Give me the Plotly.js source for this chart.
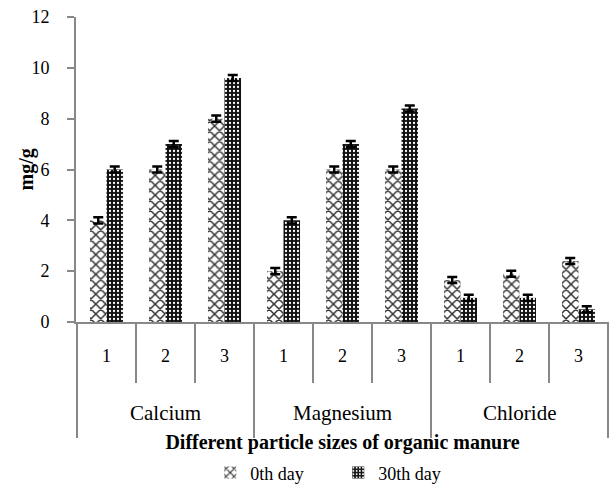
<!DOCTYPE html>
<html>
<head>
<meta charset="utf-8">
<script src="https://cdn.plot.ly/plotly-3.0.1.min.js"></script>
<style>html,body{margin:0;padding:0;background:#fff;}#chart{width:610px;height:487px;}</style>
</head>
<body>
<div id="chart"></div>
<script>
const groups = ["Calcium","Calcium","Calcium","Magnesium","Magnesium","Magnesium","Chloride","Chloride","Chloride"];
const sizes = ["1","2","3","1","2","3","1","2","3"];
const day0 = [4.0, 6.0, 8.0, 2.0, 6.0, 6.0, 1.65, 1.9, 2.4];
const day0Err = [0.12, 0.12, 0.12, 0.12, 0.12, 0.12, 0.12, 0.12, 0.12];
const day30 = [6.0, 7.0, 9.6, 4.0, 7.0, 8.4, 0.95, 0.95, 0.5];
const day30Err = [0.12, 0.12, 0.12, 0.12, 0.12, 0.12, 0.12, 0.12, 0.12];
const seriesNames = ["0th day", "30th day"];
const xTitle = "Different particle sizes of organic manure";
const yTitle = "mg/g";

const F = "Liberation Serif";
const GREY = "#888888";
// unique category keys (group + size), shown with size labels only
const cats = groups.map((g, i) => g + " " + sizes[i]);
const groupNames = groups.filter((g, i) => groups.indexOf(g) === i);

const traces = [
  {type:"bar", name:seriesNames[0], x:cats, y:day0,
   marker:{color:"#ffffff", line:{width:0}, pattern:{shape:"x", fgcolor:"#333333", bgcolor:"#ffffff", size:7, solidity:0.38}},
   error_y:{type:"data", array:day0Err, visible:true, color:"#000", thickness:2.5, width:5}},
  {type:"bar", name:seriesNames[1], x:cats, y:day30,
   marker:{color:"#ffffff", line:{width:0}, pattern:{shape:".", fgcolor:"#ffffff", bgcolor:"#111111", size:4, solidity:0.25}},
   error_y:{type:"data", array:day30Err, visible:true, color:"#000", thickness:2.5, width:5}}
];

// group labels and group dividers, derived from the category arrays
const annotations = groupNames.map(g => {
  const idx = groups.map((v, i) => v === g ? i : -1).filter(i => i >= 0);
  const center = (idx[0] + idx[idx.length - 1]) / 2;
  return {x:center, xref:"x", y:-0.297, yref:"paper", yanchor:"middle", showarrow:false,
          text:g, font:{size:21, family:F, color:"#000"}};
});
annotations.push({x:-0.092, xref:"paper", y:0.5, yref:"paper", xanchor:"center", yanchor:"middle",
  textangle:-90, showarrow:false, text:"<b>" + yTitle + "</b>", font:{size:20, family:F, color:"#000"}});
const boundaries = [-0.5];
groupNames.forEach(g => { boundaries.push(groups.lastIndexOf(g) + 0.5); });
const shapes = boundaries.map(b => ({type:"line", xref:"x", yref:"paper", x0:b, x1:b, y0:0, y1:-0.38,
  line:{color:GREY, width:2}}));

const layout = {
  width:610, height:487,
  margin:{l:76, r:1, t:17, b:165, autoexpand:false},
  paper_bgcolor:"#fff", plot_bgcolor:"#fff",
  font:{family:F, color:"#000"},
  barmode:"group", bargap:0.44, bargroupgap:0,
  showlegend:true,
  legend:{orientation:"h", x:0.492, xanchor:"center", yref:"container", y:0.029, yanchor:"middle",
          font:{size:18, family:F}, entrywidth:83, entrywidthmode:"pixels"},
  annotations:annotations,
  shapes:shapes,
  xaxis:{type:"category", tickmode:"array", tickvals:cats, ticktext:sizes, automargin:false,
    showline:true, linecolor:GREY, linewidth:2,
    ticks:"outside", tickson:"boundaries", ticklen:59, tickcolor:GREY, tickwidth:2,
    ticklabelstandoff:16,
    tickfont:{size:18, family:F}, showgrid:false,
    title:{text:"<b>" + xTitle + "</b>", font:{size:20, family:F}, standoff:71}},
  yaxis:{range:[0,12], dtick:2, automargin:false, showline:true, linecolor:GREY, linewidth:2,
    ticks:"outside", ticklen:7, tickcolor:GREY, tickwidth:2, showgrid:false, zeroline:false,
    ticklabelstandoff:14,
    tickfont:{size:18, family:F}}
};
Plotly.newPlot("chart", traces, layout, {displayModeBar:false});
</script>
</body>
</html>
